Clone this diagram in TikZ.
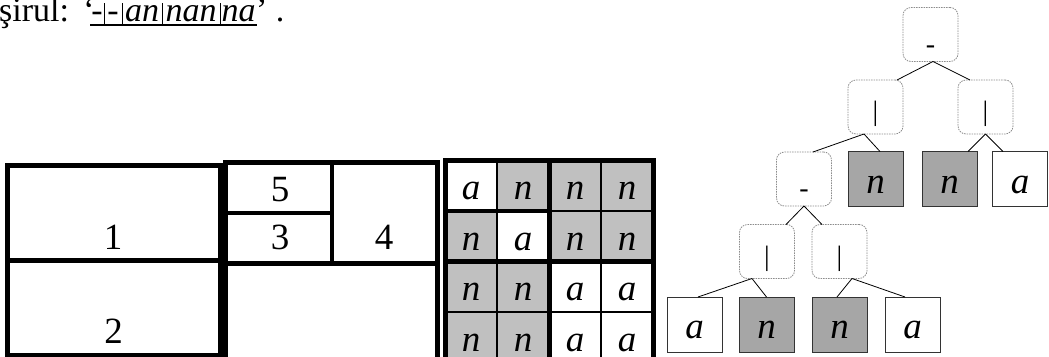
\documentclass[tikz,border=0pt]{standalone}
\usepackage{fontspec}
\setmainfont{Liberation Serif}
\usetikzlibrary{positioning}
\newcommand\bigtxt{\fontsize{37pt}{42pt}\selectfont}
\newcommand\strtxt{\fontsize{34pt}{40pt}\selectfont}
\colorlet{filla}{white}
\definecolor{filln}{HTML}{C0C0C0}
\definecolor{leafgray}{HTML}{A6A6A6}
\definecolor{opgray}{HTML}{8C8C8C}
\tikzset{
  frame/.style={line width=5pt},
  divider/.style={line width=4pt},
  cell/.style={draw, line width=2.5pt, outer sep=0pt, minimum width=52pt, minimum height=50.5pt,
    inner sep=0pt, text height=28pt, text depth=0pt, font=\bigtxt\itshape},
  seg/.style={inner sep=0pt, outer sep=0pt, minimum height=22pt, text height=14pt, text depth=0pt, font=\strtxt},
  plain/.style={inner sep=0pt, font=\bigtxt},
  strplain/.style={inner sep=0pt, font=\strtxt},
  opbox/.style={draw=opgray, line width=0.8pt, dash pattern=on 1.5pt off 1pt, rounded corners=8pt,
    minimum width=55pt, minimum height=54pt, inner sep=0pt, outer sep=0pt,
    text height=27pt, text depth=0pt, font=\fontsize{28pt}{32pt}\selectfont},
  dashop/.style={opbox, text height=37pt},
  leaf/.style={draw=black!80, line width=0.8pt, minimum size=55pt, inner sep=0pt, outer sep=0pt,
    text height=28pt, text depth=0pt, font=\bigtxt\itshape},
  edge/.style={line width=0.8pt}
}
\begin{document}
\begin{tikzpicture}[x=1pt,y=-1pt]
  \useasboundingbox (0,0) rectangle (1049,356);

  % string
  \node[seg, minimum width=14pt] (s1) at (97,14) {-};
  \node[seg, minimum width=18pt, right=0pt of s1] (s2) {-};
  \node[seg, minimum width=40pt, right=0pt of s2] (s3) {\itshape an};
  \node[seg, minimum width=58pt, right=0pt of s3] (s4) {\itshape nan};
  \node[seg, minimum width=37pt, right=0pt of s4] (s5) {\itshape na};
  \node[strplain, anchor=base east] (q1) at ([xshift=5pt]s1.base west) {‘};
  \node[strplain, anchor=base east] (word) at ([xshift=-14pt]q1.base west) {şirul:};
  \node[strplain, anchor=base west] (q2) at ([xshift=-1pt]s5.base east) {’};
  \node[strplain, anchor=base west] (dot) at ([xshift=8pt]q2.base east) {.};
  \foreach \n in {s1,s2,s3,s4}
    \draw[line width=0.8pt] (\n.north east) -- (\n.south east);
  \draw[line width=1.5pt] (s1.south west) -- (s5.south east);

  % partition
  \draw[frame] (7.5,165.5) rectangle (220,355);
  \draw[frame] (7.5,260.5) -- (220,260.5);
  \draw[frame] (225.5,370) |- (437.5,162.5) -- (437.5,370);
  \draw[frame] (225.5,263.5) -- (437.5,263.5);
  \draw[divider] (225.5,213) -- (332,213);
  \draw[divider] (332,162.5) -- (332,263.5);
  \node[plain, anchor=base] (one) at (113,249) {1};
  \node[plain, anchor=base] (two) at (113.5,343) {2};
  \node[plain, anchor=base] (five) at (280,201) {5};
  \node[plain, anchor=base] (three) at (280,249) {3};
  \node[plain, anchor=base] (four) at (384,249) {4};

  % matrix
  \foreach \r/\cells in {1/{a,n,n,n}, 2/{n,a,n,n}, 3/{n,n,a,a}, 4/{n,n,a,a}}
    \foreach \l [count=\c] in \cells
      \node[cell, fill=fill\l] (g\r\c) at ({419+52*\c},{135.25+50.5*\r}) {\l};
  \draw[frame] (g11.north west) rectangle (g44.south east);
  \draw[frame] (g12.north east) -- (g42.south east);
  \draw[frame] (g31.north west) -- (g34.north east);
  \draw[divider] (g21.north west) -- (g22.north east);

  % tree
  \node[dashop] (root) at (930.5,34.5) {-};
  \node[opbox] (barL) at (875.5,107) {|};
  \node[opbox] (barR) at (985.5,107) {|};
  \node[dashop] (dashM) at (804,179) {-};
  \node[leaf, fill=leafgray] (leafN1) at (875.5,179) {n};
  \node[leaf, fill=leafgray] (leafN2) at (949.5,179) {n};
  \node[leaf, fill=white] (leafA1) at (1020,179) {a};
  \node[opbox] (barLL) at (767,251.5) {|};
  \node[opbox] (barLR) at (839.5,251.5) {|};
  \node[leaf, fill=white] (leafA2) at (694.5,324.5) {a};
  \node[leaf, fill=leafgray] (leafN3) at (766.5,324.5) {n};
  \node[leaf, fill=leafgray] (leafN4) at (839.5,324.5) {n};
  \node[leaf, fill=white] (leafA3) at (912.5,324.5) {a};

  \draw[edge] ([xshift=2.5pt]root.south) -- ([xshift=21.5pt]barL.north);
  \draw[edge] ([xshift=2.5pt]root.south) -- ([xshift=-15.5pt]barR.north);
  \draw[edge] ([xshift=-11.5pt]barL.south) -- ([xshift=9pt]dashM.north);
  \draw[edge] ([xshift=-11.5pt]barL.south) -- ([xshift=4.5pt]leafN1.north);
  \draw[edge] (barR.south) -- ([xshift=18.5pt]leafN2.north);
  \draw[edge] (barR.south) -- ([xshift=-17pt]leafA1.north);
  \draw[edge] (dashM.south) -- ([xshift=19pt]barLL.north);
  \draw[edge] (dashM.south) -- ([xshift=-17.5pt]barLR.north);
  \draw[edge] ([xshift=-15pt]barLL.south) -- ([xshift=3.5pt]leafA2.north);
  \draw[edge] ([xshift=-15pt]barLL.south) -- (leafN3.north);
  \draw[edge] ([xshift=12.5pt]barLR.south) -- ([xshift=-2.5pt]leafN4.north);
  \draw[edge] ([xshift=12.5pt]barLR.south) -- ([xshift=-7.5pt]leafA3.north);
\end{tikzpicture}
\end{document}
